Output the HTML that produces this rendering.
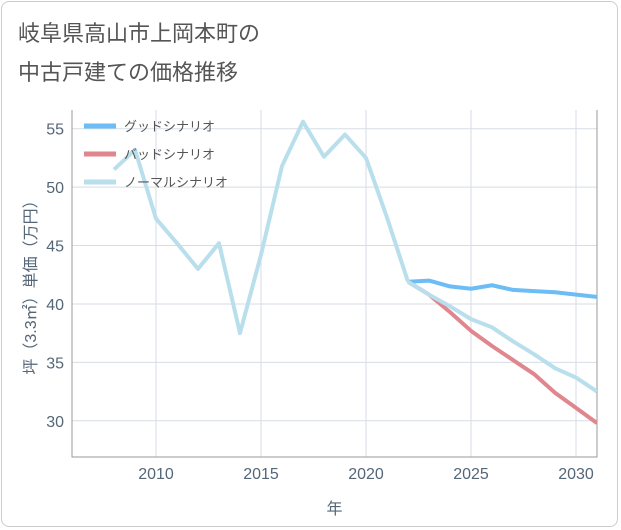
<!DOCTYPE html>
<html><head><meta charset="utf-8"><style>
body{margin:0;background:#fff;}
#wrap{position:relative;width:621px;height:530px;font-family:"Liberation Sans","Noto Sans CJK JP",sans-serif;}
#frame{position:absolute;left:1px;top:1px;width:617px;height:526px;border:1px solid #ccc;border-radius:8px;box-sizing:border-box;}
.title{position:absolute;left:18px;font-size:22px;color:#555;}
</style></head><body>
<div id="wrap">
<div id="frame"></div>
<div class="title" style="top:16px">岐阜県高山市上岡本町の</div>
<div class="title" style="top:55px">中古戸建ての価格推移</div>
<svg id="svg" width="621" height="530" style="position:absolute;left:0;top:0"></svg>
</div>
<script>
const histYears=[2008,2009,2010,2011,2012,2013,2014,2015,2016,2017,2018,2019,2020,2021,2022];
const histValues=[51.5,53.2,47.3,45.2,43.0,45.2,37.5,44.2,51.8,55.6,52.6,54.5,52.5,47.4,41.9];
const futYears=[2022,2023,2024,2025,2026,2027,2028,2029,2030,2031];
const goodValues=[41.9,42.0,41.5,41.3,41.6,41.2,41.1,41.0,40.8,40.6];
const badValues=[41.9,40.8,39.3,37.7,36.4,35.2,34.0,32.4,31.1,29.8];
const normalValues=[41.9,40.8,39.8,38.7,38.0,36.8,35.7,34.5,33.7,32.5];
const xTicks=[2010,2015,2020,2025,2030];
const yTicks=[30,35,40,45,50,55];
const legendLabels=["グッドシナリオ","バッドシナリオ","ノーマルシナリオ"];
const L=72,R=597,T=110,B=457;
const x=v=>L+(v-2006)/(2031-2006)*(R-L);
const y=v=>B-(v-26.9)/(56.6-26.9)*(B-T);
const svg=document.getElementById('svg');const NS='http://www.w3.org/2000/svg';
function mk(t,a,p){const e=document.createElementNS(NS,t);for(const k in a)e.setAttribute(k,a[k]);(p||svg).appendChild(e);return e;}
const defs=mk('defs',{});const cp=mk('clipPath',{id:'c'},defs);mk('rect',{x:L,y:T,width:R-L,height:B-T},cp);
xTicks.forEach(t=>{const l=mk('line',{x1:x(t),x2:x(t),y1:T,y2:B,stroke:'#d5dde5'});
const tx=mk('text',{x:x(t),y:B+22,'text-anchor':'middle','font-size':16,fill:'#567'});tx.textContent=t;});
yTicks.forEach(t=>{const l=mk('line',{x1:L,x2:R,y1:y(t),y2:y(t),stroke:'#d5dde5'});
const tx=mk('text',{x:L-8,y:y(t)+6,'text-anchor':'end','font-size':16,fill:'#567'});tx.textContent=t;});
const ax=mk('path',{d:`M${L} ${T}V${B}H${R}V${T}`,fill:'none',stroke:'#999'});
const xt=mk('text',{x:(L+R)/2,y:514,'text-anchor':'middle','font-size':16,fill:'#567'});xt.textContent='年';
const yt=mk('text',{x:0,y:0,'text-anchor':'middle','font-size':16,fill:'#567',transform:`translate(36 ${(T+B)/2}) rotate(-90)`});yt.textContent='坪（3.3㎡）単価（万円）';
function line(xs,vs,c,name){const p=mk('path',{d:xs.map((v,i)=>(i?'L':'M')+x(v)+' '+y(vs[i])).join(''),fill:'none',stroke:c,'stroke-width':4,'stroke-linejoin':'round','clip-path':'url(#c)'});}
line(futYears,goodValues,'#6cbdf5','good-scenario-line');
line(futYears,badValues,'#e0868e','bad-scenario-line');
line(futYears,normalValues,'#b9dfec','normal-scenario-line');
line(histYears,histValues,'#b9dfec','history-line');
const cols=['#6cbdf5','#e0868e','#b9dfec'];
legendLabels.forEach((s,i)=>{const yy=126+i*28;const l=mk('line',{x1:84,x2:116,y1:yy,y2:yy,stroke:cols[i],'stroke-width':5});
const t=mk('text',{x:124,y:yy+5,'font-size':13,fill:'#555'});t.textContent=s;});
</script></body></html>
